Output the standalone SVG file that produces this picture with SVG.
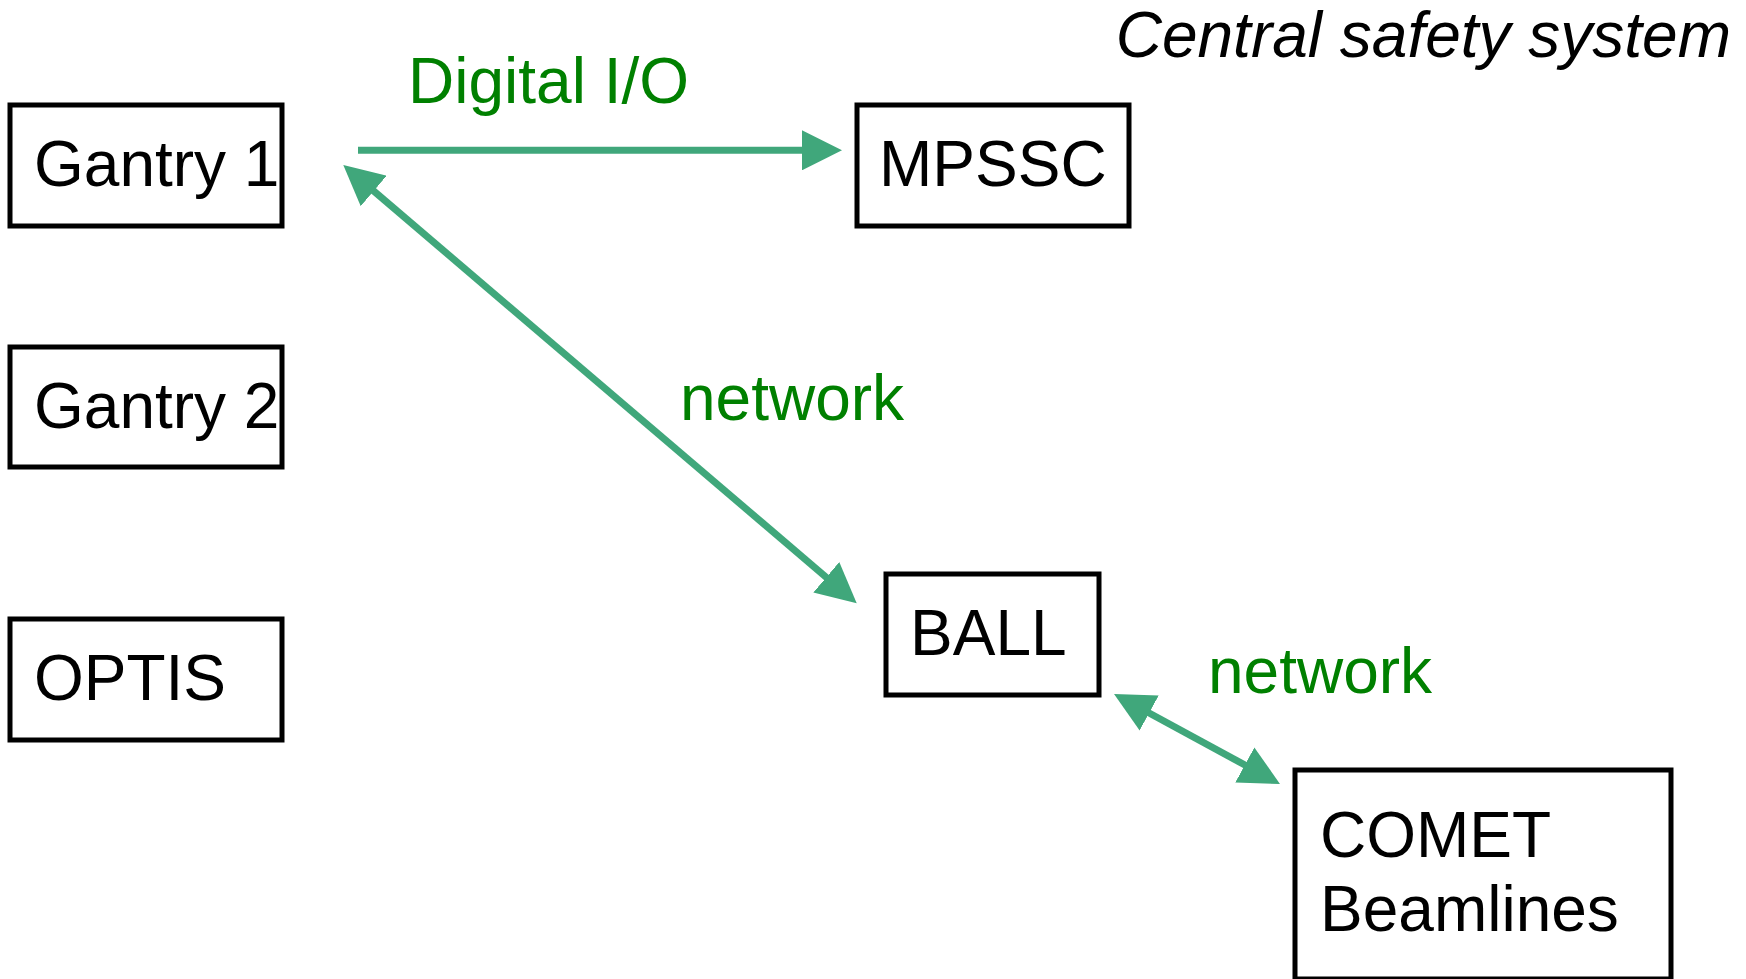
<svg xmlns="http://www.w3.org/2000/svg" width="1746" height="979" viewBox="0 0 1746 979">
<style>
.box{fill:#ffffff;stroke:#000000;stroke-width:5}
.lbl{font-family:"Liberation Sans",Arial,sans-serif;font-size:64px;fill:#000000}
.edge{font-family:"Liberation Sans",Arial,sans-serif;font-size:64px;fill:#008000}
.conn{stroke:#40a77b;stroke-width:7;fill:none}
</style>
<defs>
<marker id="arr" markerUnits="userSpaceOnUse" markerWidth="40" markerHeight="40" viewBox="0 0 40 40" refX="20" refY="20" orient="auto-start-reverse">
<path d="M0,0 L40,20 L0,40 Z" fill="#40a77b"/>
</marker>
</defs>
<rect width="1746" height="979" fill="#ffffff"/>
<text x="1731" y="57" class="lbl" font-style="italic" text-anchor="end">Central safety system</text>
<g id="connectors">
<line class="conn" x1="358" y1="150.3" x2="822" y2="150.3" marker-end="url(#arr)"/>
<line class="conn" x1="358.5" y1="178" x2="841.5" y2="590.3" marker-start="url(#arr)" marker-end="url(#arr)"/>
<line class="conn" x1="1131.6" y1="703.5" x2="1262.4" y2="774.5" marker-start="url(#arr)" marker-end="url(#arr)"/>
<text x="408" y="103" class="edge">Digital I/O</text>
<text x="680" y="420" class="edge">network</text>
<text x="1208" y="693" class="edge">network</text>
</g>
<g id="gantry1">
<rect class="box" x="10" y="105" width="272" height="121"/>
<text x="34" y="186" class="lbl">Gantry 1</text>
</g>
<g id="gantry2">
<rect class="box" x="10" y="347" width="272" height="120"/>
<text x="34" y="428" class="lbl">Gantry 2</text>
</g>
<g id="optis">
<rect class="box" x="10" y="619" width="272" height="121"/>
<text x="34" y="700" class="lbl">OPTIS</text>
</g>
<g id="mpssc">
<rect class="box" x="857" y="105" width="272" height="121"/>
<text x="879" y="186" class="lbl">MPSSC</text>
</g>
<g id="ball">
<rect class="box" x="886" y="574" width="213" height="121"/>
<text x="910" y="655" class="lbl">BALL</text>
</g>
<g id="comet">
<rect class="box" x="1295" y="770" width="376" height="209"/>
<text x="1320" y="857" class="lbl">COMET</text>
<text x="1320" y="931" class="lbl">Beamlines</text>
</g>
</svg>
